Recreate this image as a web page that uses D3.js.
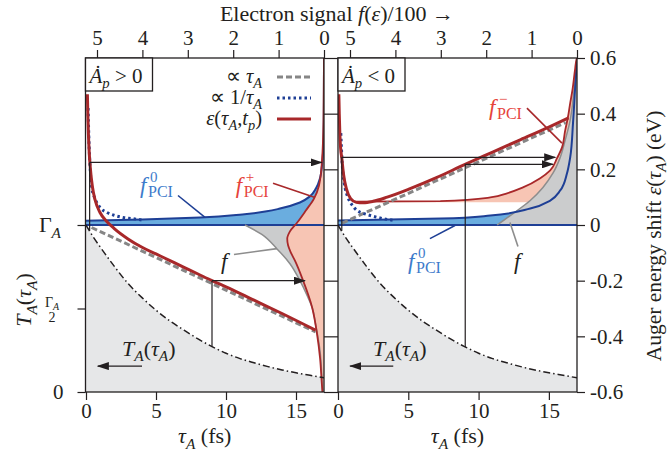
<!DOCTYPE html>
<html><head><meta charset="utf-8">
<script src="https://cdn.jsdelivr.net/npm/d3@7"></script>
<style>html,body{margin:0;padding:0;background:#fff;} svg{display:block;}</style>
</head><body>
<svg id="chart" width="672" height="452"></svg>
<script>
// ---------------- data ----------------
const tauTicks = [0, 5, 10, 15];
const signalTicks = [0, 1, 2, 3, 4, 5];
const energyTicks = [-0.6, -0.4, -0.2, 0, 0.2, 0.4, 0.6];
const tLeftTicks = [0, 0.5, 1];           // T_A in units of Gamma_A

// T_A(tau_A)/Gamma_A (dash-dot curve, both panels)
const tauGrid = [0, 0.5, 1, 2, 3, 4, 5, 6, 7, 8, 9, 10, 11, 12, 13, 14, 15, 16, 17];
const tA      = [1, 0.93, 0.87, 0.755, 0.65, 0.565, 0.49, 0.425, 0.37, 0.318, 0.272, 0.232, 0.2, 0.175, 0.152, 0.132, 0.115, 0.1, 0.085];

// left panel (A_p > 0)
const linTauL = [0.4, 16.4];
const linEpsL = [-0.009, -0.384];
const invTauL = [0.15, 0.2, 0.3, 0.43, 0.64, 1.0, 1.5, 2.07, 2.64, 3.3, 4.0];
const invEpsL = [0.42, 0.32, 0.2, 0.13, 0.095, 0.063, 0.045, 0.034, 0.027, 0.023, 0.018];
const redTauL = [0.1, 0.13, 0.17, 0.22, 0.3, 0.45, 0.65, 1.0, 1.5, 2, 3, 4, 5, 6, 7, 8, 9, 10, 12, 14, 16.4];
const redEpsL = [0.47, 0.4, 0.33, 0.27, 0.21, 0.14, 0.09, 0.045, 0.012, -0.012, -0.05, -0.08, -0.104, -0.128, -0.152, -0.176, -0.2, -0.222, -0.27, -0.318, -0.378];
const f0SigL = [5.3, 4.0, 2.73, 1.8, 1.26, 0.97, 0.53, 0.31, 0.176, 0.088, 0.044, 0.011, 0.002, 0];
const f0EpsL = [0.015, 0.02, 0.027, 0.038, 0.049, 0.059, 0.081, 0.103, 0.132, 0.168, 0.214, 0.304, 0.448, 0.6];
const fpSig  = [0, 0.011, 0.044, 0.11, 0.22, 0.4, 0.59, 0.75, 0.81, 0.79, 0.73, 0.64, 0.46, 0.26, 0.154, 0.088, 0.044, 0.033];
const fpEps  = [0.6, 0.376, 0.232, 0.142, 0.095, 0.052, 0.009, -0.023, -0.049, -0.074, -0.099, -0.128, -0.2, -0.297, -0.391, -0.477, -0.578, -0.6];
const fSigL  = [1.74, 1.37, 1.04, 0.75, 0.53, 0.37, 0.26, 0.18, 0.088, 0.044, 0.033];
const fEpsL  = [0, -0.034, -0.085, -0.139, -0.2, -0.254, -0.297, -0.362, -0.452, -0.56, -0.6];

// right panel (A_p < 0)
const linTauR = [0.3, 16.2];
const linEpsR = [0.007, 0.368];
const invTauR = [0.2, 0.3, 0.45, 0.71, 1.0, 1.36, 1.8, 2.3, 3.2, 3.9];
const invEpsR = [0.33, 0.22, 0.15, 0.099, 0.072, 0.052, 0.042, 0.034, 0.023, 0.017];
const redTauR = [0.06, 0.09, 0.13, 0.18, 0.27, 0.4, 0.6, 0.9, 1.3, 1.8, 2.5, 3.5, 5, 7, 9, 11, 13, 15, 16.4];
const redEpsR = [0.47, 0.4, 0.33, 0.28, 0.24, 0.18, 0.13, 0.095, 0.082, 0.08, 0.085, 0.1, 0.128, 0.17, 0.217, 0.262, 0.307, 0.352, 0.385];
const f0SigR = [5.3, 3.0, 1.91, 1.03, 0.59, 0.37, 0.22, 0.15, 0.088, 0.044, 0];
const f0EpsR = [0.016, 0.023, 0.034, 0.059, 0.088, 0.124, 0.186, 0.243, 0.366, 0.485, 0.6];
const fmSig  = [4.84, 3.01, 1.91, 1.54, 1.19, 0.81, 0.59, 0.44, 0.33, 0.26, 0.2, 0.15, 0.1, 0.044, 0.01, 0];
const fmEps  = [0.084, 0.086, 0.099, 0.114, 0.135, 0.168, 0.196, 0.24, 0.279, 0.34, 0.387, 0.438, 0.485, 0.557, 0.595, 0.6];
const fmBase = 0.082;
const fSigR  = [1.76, 1.41, 1.03, 0.75, 0.53, 0.37, 0.26, 0.15, 0.088, 0.033, 0];
const fEpsR  = [0, 0.041, 0.088, 0.135, 0.186, 0.243, 0.305, 0.377, 0.449, 0.539, 0.6];

// ---------------- setup ----------------
const SERIF = "'Liberation Serif','Times New Roman',serif";
const INK = "#231f20";
const COL = {
  tFill: "#e6e7e8", fFill: "#cbcccd", fLine: "#8d8d8d",
  blueFill: "#6aaddf", blueLine: "#1e3f95", blueLabel: "#3d7bcb",
  red: "#a8282a", salmon: "#f7c5b4", redLabel: "#e6433b", dash: "#868686"
};
const svg = d3.select("#chart");
const defs = svg.append("defs");
defs.append("marker").attr("id", "ah").attr("markerUnits", "userSpaceOnUse")
  .attr("markerWidth", 12).attr("markerHeight", 8).attr("refX", 11).attr("refY", 4)
  .attr("orient", "auto").append("path").attr("d", "M0,0L12,4L0,8Z").attr("fill", INK);

const yTop = 58, yBot = 392;
const yE = d3.scaleLinear().domain([-0.6, 0.6]).range([yBot, yTop]);
const yT = d3.scaleLinear().domain([0, 1]).range([yBot, yE(0)]);
const zip = (a, b) => a.map((v, i) => [v, b[i]]);

function rich(parent, x, y, segs, o = {}) {
  const size = o.size || 20;
  const t = parent.append("text").attr("x", x).attr("y", y)
    .attr("font-family", SERIF).attr("font-size", size)
    .attr("fill", o.color || INK).attr("text-anchor", o.anchor || "start");
  if (o.transform) t.attr("transform", o.transform);
  let shift = 0;
  segs.forEach(sg => {
    const [s, fl] = typeof sg === "string" ? [sg, ""] : sg;
    const ts = t.append("tspan").text(s);
    if (fl.includes("i")) ts.attr("font-style", "italic");
    let want = 0;
    if (fl.includes("b")) { ts.attr("font-size", size * 0.7); want = size * 0.25; }
    if (fl.includes("u")) { ts.attr("font-size", size * 0.7); want = -size * 0.4; }
    if (want !== shift) { ts.attr("dy", want - shift); shift = want; }
  });
  return t;
}
const tauA = [["τ", "i"], ["A", "ib"]];

function fLabel(g, x, y, sup, color) {
  const t = g.append("text").attr("x", x).attr("y", y).attr("font-family", SERIF).attr("fill", color);
  t.append("tspan").text("f").attr("font-style", "italic").attr("font-size", 23);
  t.append("tspan").text(sup).attr("font-size", 15).attr("dy", -11).attr("x", x + 10);
  t.append("tspan").text("PCI").attr("font-size", 16).attr("dy", 15).attr("x", x + 8);
}

const panels = [
  { id: "L", x0: 85.5, x1: 324, sign: ">",
    lin: zip(linTauL, linEpsL), inv: zip(invTauL, invEpsL), red: zip(redTauL, redEpsL),
    f0: zip(f0SigL, f0EpsL), fpm: zip(fpSig, fpEps), f: zip(fSigL, fEpsL),
    arrows: [{ tau: 0.26, t: 0.965, eps: 0.225, sig: 0.05 }, { tau: 9, t: 0.272, eps: -0.2, sig: 0.42 }],
    tArrow: { from: 4.0, to: 0.85, t: 0.155 } },
  { id: "R", x0: 338, x1: 577, sign: "<",
    lin: zip(linTauR, linEpsR), inv: zip(invTauR, invEpsR), red: zip(redTauR, redEpsR),
    f0: zip(f0SigR, f0EpsR), fpm: zip(fmSig, fmEps), f: zip(fSigR, fEpsR),
    arrows: [{ tau: 0.27, t: 0.965, eps: 0.243, sig: 0.48 }, { tau: 9.05, t: 0.27, eps: 0.218, sig: 0.53 }],
    tArrow: { from: 3.93, to: 0.86, t: 0.155 } }
];

panels.forEach(p => {
  const x = d3.scaleLinear().domain([0, 17]).range([p.x0 + (p.id === "L" ? 0.5 : 0), p.x1]);
  const s = d3.scaleLinear().domain([0, 5]).range([p.x1, p.x1 - 5 * 45.4]);
  p.x = x; p.s = s;
  defs.append("clipPath").attr("id", "clip" + p.id).append("rect")
    .attr("x", p.x0).attr("y", yTop).attr("width", p.x1 - p.x0).attr("height", yBot - yTop);
  const g = svg.append("g");
  const c = g.append("g").attr("clip-path", `url(#clip${p.id})`);

  const tauLine = d3.line().x(d => x(d[0])).y(d => yE(d[1])).curve(d3.curveMonotoneX);
  const distLine = d3.line().x(d => s(d[0])).y(d => yE(d[1])).curve(d3.curveMonotoneY);
  const closed = (pts, extra) => distLine(pts) + extra.map(([a, b]) => `L${s(a)},${yE(b)}`).join("") + "Z";

  // T_A fill
  c.append("path").datum(zip(tauGrid, tA))
    .attr("d", d3.area().x(d => x(d[0])).y0(yBot).y1(d => yT(d[1])).curve(d3.curveMonotoneX))
    .attr("fill", COL.tFill);

  // distributions (fills)
  c.append("path").attr("d", closed(p.f0, [[0, 0], [5.3, 0]])).attr("fill", COL.blueFill);
  if (p.id === "L") {
    c.append("path").attr("d", closed(p.f, [[0, -0.6], [0, 0]])).attr("fill", COL.fFill);
    c.append("path").attr("d", closed(p.fpm, [[0, -0.6]])).attr("fill", COL.salmon);
  } else {
    c.append("path").attr("d", closed(p.fpm, [[0, fmBase], [fmSig[0], fmBase]])).attr("fill", COL.salmon);
    c.append("path").attr("d", closed(p.f, [[0, 0]])).attr("fill", COL.fFill);
  }
  // baseline at eps = 0
  c.append("line").attr("x1", p.x0).attr("x2", p.x1).attr("y1", yE(0)).attr("y2", yE(0))
    .attr("stroke", COL.blueLine).attr("stroke-width", 2);
  // outlines
  c.append("path").attr("d", distLine(p.f)).attr("fill", "none").attr("stroke", COL.fLine).attr("stroke-width", 1.5);
  c.append("path").attr("d", distLine(p.f0)).attr("fill", "none").attr("stroke", COL.blueLine).attr("stroke-width", 2);
  c.append("path").attr("d", distLine(p.fpm)).attr("fill", "none").attr("stroke", COL.red).attr("stroke-width", 1.8);

  // T_A curve
  c.append("path").datum(zip(tauGrid, tA))
    .attr("d", d3.line().x(d => x(d[0])).y(d => yT(d[1])).curve(d3.curveMonotoneX))
    .attr("fill", "none").attr("stroke", INK).attr("stroke-width", 1.5).attr("stroke-dasharray", "7,3,1.5,3");

  // model curves
  c.append("path").attr("d", tauLine(p.lin)).attr("fill", "none").attr("stroke", COL.dash)
    .attr("stroke-width", 3).attr("stroke-dasharray", "6,3");
  c.append("path").attr("d", tauLine(p.inv)).attr("fill", "none").attr("stroke", COL.blueLine)
    .attr("stroke-width", 3).attr("stroke-dasharray", "2.5,3");
  c.append("path").attr("d", tauLine(p.red)).attr("fill", "none").attr("stroke", COL.red)
    .attr("stroke-width", 3);

  // construction lines / arrows
  p.arrows.forEach(a => {
    g.append("line").attr("x1", x(a.tau)).attr("x2", x(a.tau)).attr("y1", yT(a.t)).attr("y2", yE(a.eps))
      .attr("stroke", INK).attr("stroke-width", 1.2);
    g.append("line").attr("x1", x(a.tau)).attr("x2", s(a.sig)).attr("y1", yE(a.eps)).attr("y2", yE(a.eps))
      .attr("stroke", INK).attr("stroke-width", 1.2).attr("marker-end", "url(#ah)");
  });
  g.append("line").attr("x1", x(p.tArrow.from)).attr("x2", x(p.tArrow.to))
    .attr("y1", yT(p.tArrow.t)).attr("y2", yT(p.tArrow.t))
    .attr("stroke", INK).attr("stroke-width", 1.2).attr("marker-end", "url(#ah)");

  // frame
  g.append("rect").attr("x", p.x0).attr("y", yTop).attr("width", p.x1 - p.x0).attr("height", yBot - yTop)
    .attr("fill", "none").attr("stroke", INK).attr("stroke-width", 1.3);

  // axes
  const styleAxis = (ax, size) => {
    ax.select(".domain").remove();
    ax.selectAll("line").attr("stroke", INK).attr("stroke-width", 1.2);
    ax.selectAll("text").attr("font-family", SERIF).attr("font-size", size || 21).attr("fill", INK);
  };
  styleAxis(g.append("g").attr("transform", `translate(0,${yBot})`)
    .call(d3.axisBottom(x).tickValues(tauTicks).tickSize(8).tickPadding(3).tickFormat(d3.format("d"))));
  styleAxis(g.append("g").attr("transform", `translate(0,${yTop})`)
    .call(d3.axisTop(s).tickValues(signalTicks).tickSize(8).tickPadding(5).tickFormat(d3.format("d"))));
  if (p.id === "L") {
    styleAxis(g.append("g").attr("transform", `translate(${p.x0},0)`)
      .call(d3.axisLeft(yT).tickValues(tLeftTicks).tickSize(8).tickPadding(14)
        .tickFormat(d => d === 0 ? "0" : "")));
    styleAxis(g.append("g").attr("transform", `translate(${p.x1},0)`)
      .call(d3.axisRight(yE).tickValues(energyTicks).tickSize(7).tickFormat("")));
  } else {
    styleAxis(g.append("g").attr("transform", `translate(${p.x0},0)`)
      .call(d3.axisLeft(yE).tickValues(energyTicks).tickSize(7).tickFormat("")));
    styleAxis(g.append("g").attr("transform", `translate(${p.x1},0)`)
      .call(d3.axisRight(yE).tickValues(energyTicks).tickSize(8).tickPadding(5)
        .tickFormat(d => d === 0 ? "0" : d.toFixed(1))));
  }

  // x-axis title
  rich(g, (p.x0 + p.x1) / 2, 443, [...tauA, " (fs)"], { anchor: "middle", size: 22 });

  // box label
  g.append("rect").attr("x", p.x0).attr("y", yTop).attr("width", 67).attr("height", 33)
    .attr("fill", "#fff").attr("stroke", INK).attr("stroke-width", 1.3);
  rich(g, p.x0 + 4, yTop + 25, [["Ȧ", "i"], ["p", "ib"], ` ${p.sign} 0`], { size: 21 });

  // T_A label in panel
  rich(g, x(p.id === "L" ? 2.57 : 2.49), yE(-0.47), [["T", "i"], ["A", "ib"], "(", ...tauA, ")"], { size: 22 });
});

const L = panels[0], R = panels[1];
const gL = svg.append("g"), gR = svg.append("g");

// leaders
const leader = (p, g, a, b, col) => g.append("line").attr("x1", p.x(a[0])).attr("y1", yE(a[1]))
  .attr("x2", p.x(b[0])).attr("y2", yE(b[1])).attr("stroke", col).attr("stroke-width", 1.6);
leader(L, gL, [6.57, 0.106], [8.5, 0.027], COL.blueLine);
leader(L, gL, [13.36, 0.15], [16.36, 0.099], COL.red);
leader(L, gL, [10.57, -0.106], [13.64, -0.085], COL.fLine);
leader(R, gR, [13.44, 0.42], [15.93, 0.294], COL.red);
leader(R, gR, [6.54, -0.049], [8.32, -0.002], COL.blueLine);
leader(R, gR, [12.8, -0.077], [12.23, 0.009], COL.fLine);

// f labels
fLabel(gL, L.x(3.86), yE(0.114), "0", COL.blueLabel);
fLabel(gL, L.x(10.7), yE(0.114), "+", COL.redLabel);
rich(gL, L.x(9.64), yE(-0.157), [["f", "i"]], { size: 23 });
fLabel(gR, R.x(10.74), yE(0.395), "−", COL.redLabel);
fLabel(gR, R.x(4.98), yE(-0.157), "0", COL.blueLabel);
rich(gR, R.x(12.52), yE(-0.157), [["f", "i"]], { size: 23 });

// legend (left panel)
const lg = svg.append("g");
const legendRows = [
  { segs: ["∝ ", ...tauA], y: 83, stroke: COL.dash, dash: "6,3" },
  { segs: ["∝ 1/", ...tauA], y: 104, stroke: COL.blueLine, dash: "2.5,3" },
  { segs: [["ε", "i"], "(", ...tauA, ",", ["t", "i"], ["p", "ib"], ")"], y: 125, stroke: COL.red, dash: null }
];
legendRows.forEach(r => {
  rich(lg, 262, r.y, r.segs, { anchor: "end", size: 20.5 });
  const ln = lg.append("line").attr("x1", 277).attr("x2", 311).attr("y1", r.y - 6).attr("y2", r.y - 6)
    .attr("stroke", r.stroke).attr("stroke-width", 3);
  if (r.dash) ln.attr("stroke-dasharray", r.dash);
});

// left axis labels (Gamma_A, Gamma_A/2)
rich(svg, 61, yT(1) + 7, ["Γ", ["A", "ib"]], { anchor: "end", size: 22 });
const half = svg.append("text").attr("x", 52).attr("y", yT(0.5) - 2).attr("font-family", SERIF)
  .attr("fill", INK).attr("text-anchor", "middle");
half.append("tspan").text("Γ").attr("font-size", 14);
half.append("tspan").text("A").attr("font-size", 10).attr("font-style", "italic").attr("dy", 3);
half.append("tspan").text("2").attr("font-size", 14).attr("x", 52).attr("dy", 12);

// left title
rich(svg, 0, 0, [["T", "i"], ["A", "ib"], "(", ...tauA, ")"],
  { anchor: "middle", size: 22, transform: "translate(31,300) rotate(-90)" });
// right title
rich(svg, 0, 0, ["Auger energy shift ", ["ε", "i"], "(", ...tauA, ") (eV)"],
  { anchor: "middle", size: 21.5, transform: "translate(661,236) rotate(-90)" });
// top title
rich(svg, 0, 0, ["Electron signal ", ["f", "i"], "(", ["ε", "i"], ")/100 →"], { anchor: "middle", size: 22, transform: "translate(337,21)" });
</script>
</body></html>
